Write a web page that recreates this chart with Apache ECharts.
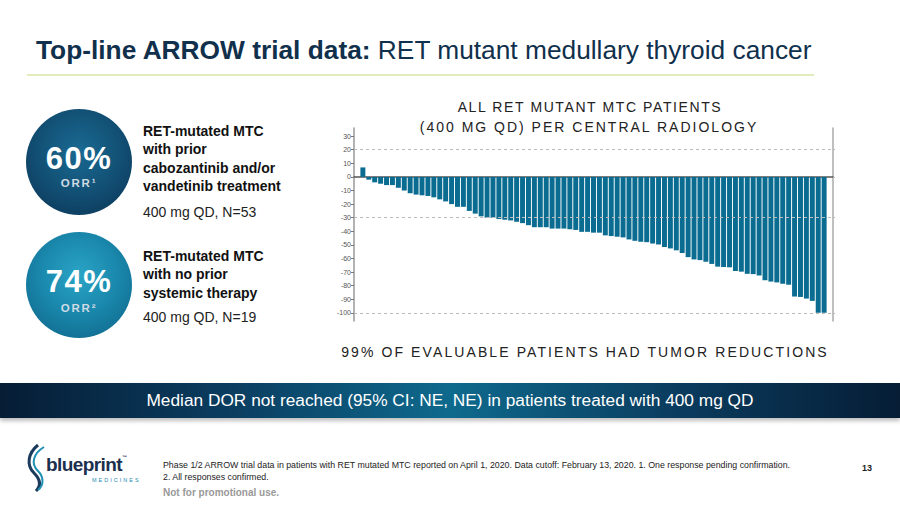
<!DOCTYPE html>
<html>
<head>
<meta charset="utf-8">
<script src="https://cdn.jsdelivr.net/npm/echarts@6/dist/echarts.min.js"></script>
<style>
  html, body { margin:0; padding:0; background:#fff; }
  body { width:900px; height:506px; position:relative; overflow:hidden; font-family:'Liberation Sans', Arial, sans-serif; }
  .abs { position:absolute; white-space:nowrap; }
  .circle { position:absolute; width:106px; height:106px; border-radius:50%; }
  .big { position:absolute; left:0; width:106px; text-align:center; color:#fff; font-weight:bold; font-size:31px; letter-spacing:1.5px; line-height:1; }
  .orr { position:absolute; left:0; width:106px; text-align:center; color:#cfdbe4; font-weight:bold; font-size:11.5px; letter-spacing:1.8px; line-height:1; }
  .desc { font-weight:bold; font-size:14px; color:#111; line-height:18.3px; }
  .dose { font-size:14px; color:#222; line-height:1; }
  .sub { font-size:14px; color:#222; letter-spacing:1.6px; line-height:1; text-align:center; }
</style>
</head>
<body>
<div id="chart" style="position:absolute;left:0;top:0;width:900px;height:506px;"></div>

<div class="abs" style="left:36px;top:37px;font-size:26.3px;color:#10304c;line-height:1;"><b>Top-line ARROW trial data:</b> RET mutant medullary thyroid cancer</div>
<div class="abs" style="left:27px;top:74px;width:787px;height:2px;background:#e0ecbc;"></div>

<div class="circle" style="left:26px;top:109px;background:radial-gradient(circle at 50% 40%, #1a6a93 0%, #135378 45%, #0a3253 100%);">
  <div class="big" style="top:34px;">60%</div>
  <div class="orr" style="top:68.5px;">ORR¹</div>
</div>
<div class="circle" style="left:26px;top:232px;background:radial-gradient(circle at 50% 40%, #2aa4c6 0%, #1a89ad 45%, #0c6185 100%);">
  <div class="big" style="top:34px;">74%</div>
  <div class="orr" style="top:71px;">ORR²</div>
</div>

<div class="abs desc" style="left:143px;top:122px;">RET-mutated MTC<br>with prior<br>cabozantinib and/or<br>vandetinib treatment</div>
<div class="abs dose" style="left:143px;top:205px;">400 mg QD, N=53</div>
<div class="abs desc" style="left:143px;top:247px;">RET-mutated MTC<br>with no prior<br>systemic therapy</div>
<div class="abs dose" style="left:143px;top:310px;">400 mg QD, N=19</div>

<div class="abs sub" style="left:390px;width:400px;top:100px;">ALL RET MUTANT MTC PATIENTS</div>
<div class="abs sub" style="left:389px;width:400px;top:120px;letter-spacing:2px;">(400 MG QD) PER CENTRAL RADIOLOGY</div>
<div class="abs sub" style="left:335px;width:500px;top:345px;letter-spacing:2.1px;">99% OF EVALUABLE PATIENTS HAD TUMOR REDUCTIONS</div>

<div class="abs" style="left:0;top:383px;width:900px;height:35px;background:linear-gradient(to right,#061d35 0%,#0a3c5f 25%,#0e6a8d 50%,#0a3c5f 75%,#061d35 100%);box-shadow:0 3px 4px rgba(0,0,0,0.25);"></div>
<div class="abs" style="left:0;top:392px;width:900px;text-align:center;color:#fff;font-size:17.3px;line-height:1;">Median DOR not reached (95% CI: NE, NE) in patients treated with 400 mg QD</div>

<svg class="abs" style="left:24px;top:443px;" width="30" height="50" viewBox="0 0 30 50">
  <path d="M14 2 C 4 10, 2 22, 10 30 C 16 36, 18 42, 12 48" fill="none" stroke="#1b3a5c" stroke-width="3"/>
  <path d="M20 4 C 10 10, 6 20, 14 28 C 20 34, 20 42, 14 47" fill="none" stroke="#1f8fb4" stroke-width="2"/>
</svg>
<div class="abs" style="left:46px;top:455px;font-size:19px;font-weight:bold;color:#1b2f4e;letter-spacing:-0.6px;line-height:1;">blueprint<span style="font-size:5px;vertical-align:top;">™</span></div>
<div class="abs" style="left:92px;top:478px;font-size:5.5px;color:#1d8db3;letter-spacing:2px;line-height:1;">MEDICINES</div>

<div class="abs" style="left:163px;top:459px;font-size:8.8px;color:#222;line-height:12px;">Phase 1/2 ARROW trial data in patients with RET mutated MTC reported on April 1, 2020. Data cutoff: February 13, 2020. 1. One response pending confirmation.<br>2. All responses confirmed.</div>
<div class="abs" style="left:163px;top:488px;font-size:10px;color:#999;font-weight:bold;line-height:1;">Not for promotional use.</div>
<div class="abs" style="left:862px;top:464px;font-size:9px;color:#222;font-weight:bold;line-height:1;">13</div>

<script>
// Best % change in tumour size per patient (waterfall, sorted)
const tumorChange = [7, -2, -4, -5, -6, -6, -8, -10, -12, -13, -13.5, -14, -15, -16.5, -18, -20, -22, -22, -25, -27,
  -29, -30, -30, -31, -31.5, -32, -33, -34, -35.5, -37, -37, -37, -38, -38, -38, -38.5, -39, -40.4, -40.4, -41,
  -41, -43, -43.5, -44, -44.5, -46, -47, -47.7, -48, -49, -49.7, -51.6, -52.6, -54, -56, -59, -60.7, -61.2, -62.4, -64,
  -66, -66.3, -66.5, -69.2, -69.7, -71.3, -71.5, -72.5, -76, -77, -77.6, -78.6, -79.3, -88, -88.3, -89.5, -91.2, -100, -100];
const patientIds = tumorChange.map((_, i) => 'Pt ' + (i + 1));
const yTickValues = [30, 20, 10, 0, -10, -20, -30, -40, -50, -60, -70, -80, -90, -100];
const rightTickValues = [20, 0, -30, -100];
const refLines = [20, -30, -100];

const categories = [''].concat(patientIds, ['']);
const seriesData = [null].concat(tumorChange, [null]);

const chart = echarts.init(document.getElementById('chart'), null, { renderer: 'svg' });
chart.setOption({
  backgroundColor: 'transparent',
  animation: false,
  grid: { left: 354, right: 67, top: 128, bottom: 185, containLabel: false },
  xAxis: {
    type: 'category', data: categories, boundaryGap: true,
    axisLine: { show: true, onZero: true, onZeroAxisIndex: 0, lineStyle: { color: '#555', width: 1.5 } },
    axisTick: { show: false }, axisLabel: { show: false }, splitLine: { show: false }
  },
  yAxis: [{
    type: 'value', min: -106, max: 36, position: 'left',
    axisLine: { show: true, onZero: false, lineStyle: { color: '#999', width: 1.5 } },
    axisTick: { show: true, customValues: yTickValues, length: 3, lineStyle: { color: '#777' } },
    axisLabel: { customValues: yTickValues, fontSize: 7, color: '#555', margin: 3, fontFamily: 'Liberation Sans' },
    splitLine: { show: false }
  }, {
    type: 'value', min: -106, max: 36, position: 'right',
    axisLine: { show: true, onZero: false, lineStyle: { color: '#aaa', width: 1.5 } },
    axisTick: { show: true, customValues: rightTickValues, length: 2, lineStyle: { color: '#bbb' } },
    axisLabel: { show: false }, splitLine: { show: false }
  }],
  series: [{
    type: 'bar', data: seriesData, barCategoryGap: '16%',
    itemStyle: { color: '#0b6c91' },
    markLine: {
      silent: true, symbol: 'none', label: { show: false },
      lineStyle: { type: [3, 3], color: '#bbb', width: 1 },
      data: refLines.map(v => ({ yAxis: v }))
    }
  }]
});
</script>
</body>
</html>
